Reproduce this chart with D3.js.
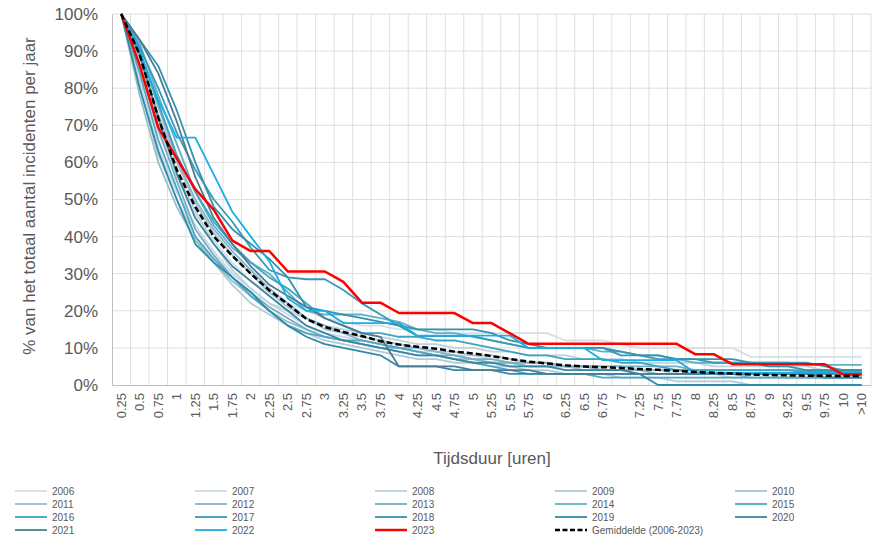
<!DOCTYPE html>
<html>
<head>
<meta charset="utf-8">
<script src="https://cdn.jsdelivr.net/npm/d3@7"></script>
<style>
  body { margin: 0; background: #fff; }
  svg { display: block; font-family: "Liberation Sans", Arial, sans-serif; }
</style>
</head>
<body>
<svg width="882" height="537"></svg>
<script>
// categories (tijdsduur in uren)
var categories = ["0.25","0.5","0.75","1","1.25","1.5","1.75","2","2.25","2.5","2.75","3","3.25","3.5","3.75","4","4.25","4.5","4.75","5","5.25","5.5","5.75","6","6.25","6.5","6.75","7","7.25","7.5","7.75","8","8.25","8.5","8.75","9","9.25","9.5","9.75","10",">10"];
var yTicks = [0, 10, 20, 30, 40, 50, 60, 70, 80, 90, 100];

// values per year, % of incidents still running
var y2006 = [100,85,68,56,46,39,33,28,25,22,20,18,17,16,16,15,15,15,14,14,14,14,14,14,12,12,12,11,10,10,10,10,10,10,7.6,7.6,7.6,7.6,7.6,7.6,7.6];
var y2007 = [100,82,64,52,43,36,30,26,22,19,16,14,13,12,11,10,9,9,8,8,7,6,5,5,5,5,4,4,4,4,3,3,3,2,2,2,2,2,2,2,2];
var y2008 = [100,87,70,57,47,38,31,26,22,20,18,16,15,14,13,12,11,11,10,10,9,9,8,8,8,7,7,7,6,6,6,6,5,5,5,5,5,5,4,4,4];
var y2009 = [100,80,62,50,40,33,27,22,19,16,14,12,11,10,9,8,7,7,6,6,5,5,4,4,3,3,3,2,2,2,1,1,1,1,0,0,0,0,0,0,0];
var y2010 = [100,88,73,60,49,41,35,30,25,21,18,15,14,13,12,11,10,9,9,8,8,7,6,6,5,5,5,5,4,4,4,4,3,3,3,3,3,3,3,3,3];
var y2011 = [100,78,60,48,39,33,28,24,20,17,15,13,12,11,10,9,8,8,7,7,6,6,5,5,5,4,4,4,4,4,4,3,3,3,3,3,3,3,3,3,3];
var y2012 = [100,90,75,61,50,42,36,31,26,22,18,16,14,12,11,10,10,9,8,7,6,6,5,5,5,5,4,4,4,3,3,3,3,3,2,2,2,2,2,2,2];
var y2013 = [100,86,69,55,42,35,29,25,21,18,15,13,12,11,10,10,9,8,8,7,7,6,6,6,5,5,5,5,5,5,5,4,4,4,4,4,4,4,4,4,4];
var y2014 = [100,92,78,65,52,43,37,33,30,25,20,19,19,19,18,17,15,14,14,13,12,11,10,10,10,10,9,9,8,8,7,6,6,6,6,6,6,5.4,5.4,5.4,5.4];
var y2015 = [100,84,66,53,40,34,29,24,20,16,14,13,12,12,11,10,9,8,7,6,5,4,3,3,3,3,2,2,2,2,2,2,2,2,2,2,2,2,2,2,2];
var y2016 = [100,90,76,62,52,44,38,33,29,26,22,18,16,14,14,13,13,12,12,11,10,9,8,8,7,7,7,6,6,5,4,4,4,4,4,4,4,3.5,3.5,3.5,3.5];
var y2017 = [100,91,80,68,58,50,44,37,31,29,28.5,28.5,25.6,22,19,16,13.2,13.2,13.2,13.2,12,11,10,10,10,10,10,8,8,7,7,7,6,6,6,6,6,6,5,4,4];
var y2018 = [100,93,86,74,60,48,42,38,34,29,21,20,19,18,17,16,15,15,15,15,14,12,11,10,10,10,10,9,8,8,7,7,7,7,6,5,5,4,4,4,4];
var y2019 = [100,80,63,50,38,33,29,25,20,16,13,11,10,9,8,5,5,5,4,4,4,3,3,3,3,3,3,3,3,0,0,0,0,0,0,0,0,0,0,0,0];
var y2020 = [100,89,72,57,45,38,32,28,24,20,16,14,12,11,10,9,8,8,7,6,6,5,5,5,4,4,4,4,3,3,3,3,3,3,3,3,3,3,2,2,2];
var y2021 = [100,93,84,71,56,45,38,32,27,24,21,18,16,14,13,5,5,5,5,4,4,4,4,3,3,3,3,3,3,3,3,3,3,3,3,3,3,3,3,3,3];
var y2022 = [100,90,76.7,66.7,66.7,56.7,46.7,40,33.3,23.3,20,20,16.7,16.7,16.7,16.7,13.3,13.3,13.3,13.3,13.3,13.3,10,10,10,10,6.7,6.7,6.7,6.7,6.7,3.3,3.3,3.3,3.3,3.3,3.3,3.3,3.3,3.3,3.3];
var y2023 = [100,86.1,69.4,61.1,52.8,47.2,38.9,36.1,36.1,30.6,30.6,30.6,27.8,22.2,22.2,19.4,19.4,19.4,19.4,16.7,16.7,13.9,11.1,11.1,11.1,11.1,11.1,11.1,11.1,11.1,11.1,8.3,8.3,5.6,5.6,5.6,5.6,5.6,5.6,2.8,2.8];
var average = [100,89,72,58,48,40,34.8,30,25.5,21.8,17.8,15.6,14.3,13.2,11.8,10.9,10.3,9.8,9.0,8.5,7.8,7.0,6.3,5.8,5.3,5.0,4.8,4.6,4.3,4.1,3.8,3.5,3.3,3.1,2.8,2.7,2.6,2.5,2.5,2.4,2.4];

var seriesNames = ["2006","2007","2008","2009","2010","2011","2012","2013","2014","2015","2016","2017","2018","2019","2020","2021","2022","2023","Gemiddelde (2006-2023)"];
var seriesValues = [y2006,y2007,y2008,y2009,y2010,y2011,y2012,y2013,y2014,y2015,y2016,y2017,y2018,y2019,y2020,y2021,y2022,y2023,average];
var seriesColors = ["#d3e0e8","#c8d9e3","#bdd3de","#b0cbd8","#a4c4d3","#97bece","#87b6c8","#78aec2","#5eb1c9","#4ea8c1","#3ba4c2","#3999b4","#3493ad","#2f8ca6","#3a86a0","#4b7c95","#1aaee6","#ff0000","#000000"];

var svg = d3.select("svg");
var plotLeft = 112, plotRight = 871, plotTop = 14, plotBottom = 385;

var x = d3.scaleBand().domain(categories).range([plotLeft, plotRight]).padding(0);
var y = d3.scaleLinear().domain([0, 100]).range([plotBottom, plotTop]);

// gridlines
var grid = svg.append("g");
grid.selectAll(".hg")
    .data(yTicks.filter(function(d) { return d > 0; }))
    .enter().append("line")
    .attr("x1", plotLeft).attr("x2", plotRight)
    .attr("y1", function(d) { return y(d); })
    .attr("y2", function(d) { return y(d); })
    .attr("stroke", "#dedede").attr("stroke-width", 1);
var bounds = categories.map(function(c) { return x(c); }).concat([plotRight]);
grid.selectAll(".vg")
    .data(bounds.slice(1))
    .enter().append("line")
    .attr("x1", function(d) { return d; }).attr("x2", function(d) { return d; })
    .attr("y1", plotTop).attr("y2", plotBottom)
    .attr("stroke", "#dedede").attr("stroke-width", 1);

// axes
var yAxis = svg.append("g")
    .attr("transform", "translate(" + plotLeft + ",0)")
    .call(d3.axisLeft(y).tickValues(yTicks).tickSize(0).tickPadding(14)
        .tickFormat(function(d) { return d + "%"; }));
yAxis.select(".domain").attr("stroke", "#bfbfbf");
yAxis.selectAll("text").attr("fill", "#595959").style("font-size", "17px");

var xAxis = svg.append("g")
    .attr("transform", "translate(0," + plotBottom + ")")
    .call(d3.axisBottom(x).tickSize(0).tickPadding(0));
xAxis.select(".domain").attr("stroke", "#bfbfbf");
xAxis.selectAll("text")
    .attr("fill", "#595959")
    .style("font-size", "13px")
    .attr("text-anchor", "end")
    .attr("dy", "0.35em")
    .attr("transform", "translate(0,8) rotate(-90)")
    .attr("x", 0).attr("y", 0);

// axis titles
svg.append("text")
    .attr("transform", "translate(35,196) rotate(-90)")
    .attr("text-anchor", "middle")
    .attr("fill", "#595959")
    .style("font-size", "17px")
    .text("% van het totaal aantal incidenten per jaar");
svg.append("text")
    .attr("x", 492).attr("y", 464)
    .attr("text-anchor", "middle")
    .attr("fill", "#595959")
    .style("font-size", "17px")
    .text("Tijdsduur [uren]");

// lines
var line = d3.line()
    .x(function(d, i) { return x(categories[i]) + x.bandwidth() / 2; })
    .y(function(d) { return y(d); });

function strokeWidth(i) {
    if (i == 17) return 2.5;
    if (i == 18) return 2.5;
    return 1.8;
}

svg.append("g").selectAll("path")
    .data(seriesValues)
    .enter().append("path")
    .attr("d", function(d) { return line(d); })
    .attr("fill", "none")
    .attr("stroke", function(d, i) { return seriesColors[i]; })
    .attr("stroke-width", function(d, i) { return strokeWidth(i); })
    .attr("stroke-dasharray", function(d, i) { return i == 18 ? "6,3" : null; })
    .attr("stroke-linejoin", "round");

// legend
var legend = svg.append("g");
seriesNames.forEach(function(name, i) {
    var col = i < 15 ? i % 5 : i - 15;
    var row = i < 15 ? Math.floor(i / 5) : 3;
    var lx = 15 + col * 180;
    var ly = 491 + row * 13;
    legend.append("line")
        .attr("x1", lx).attr("x2", lx + 32)
        .attr("y1", ly).attr("y2", ly)
        .attr("stroke", seriesColors[i])
        .attr("stroke-width", i >= 17 ? 2.5 : 1.8)
        .attr("stroke-dasharray", i == 18 ? "5,2.5" : null);
    legend.append("text")
        .attr("x", lx + 37).attr("y", ly + 3.5)
        .attr("fill", "#595959")
        .style("font-size", "10px")
        .text(name);
});
</script>
</body>
</html>
